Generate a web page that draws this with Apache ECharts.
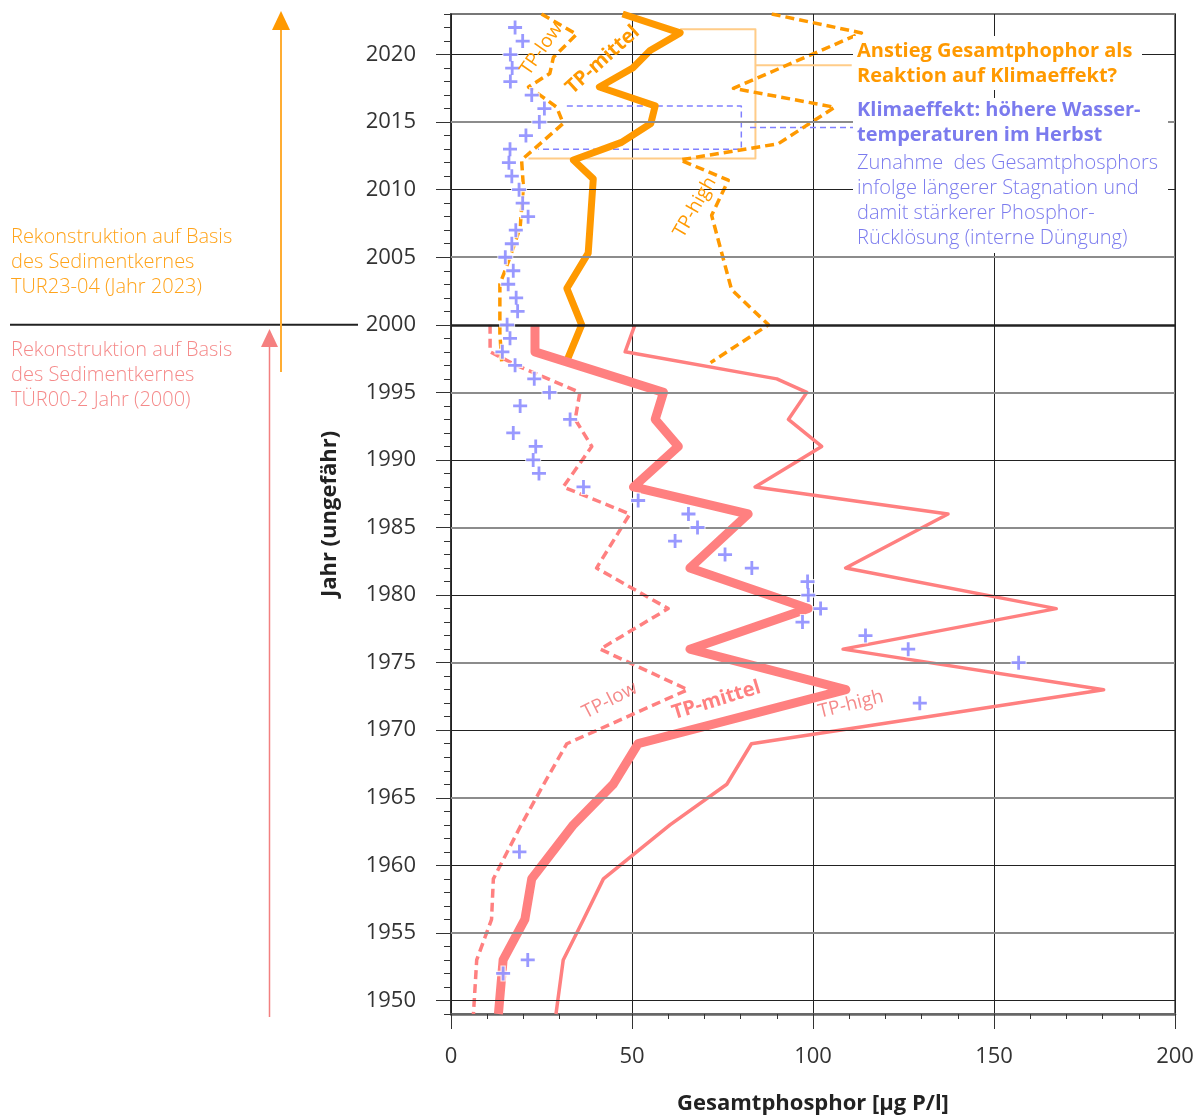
<!DOCTYPE html>
<html>
<head>
<meta charset="utf-8">
<script src="https://cdn.jsdelivr.net/npm/echarts@6/dist/echarts.min.js"></script>
<style>
  html, body { margin: 0; padding: 0; background: #fff; }
  #chart { width: 1203px; height: 1117px; }
</style>
</head>
<body>
<div id="chart"></div>
<script>
// Rekonstruierter Gesamtphosphor (TP) aus zwei Sedimentkernen

// Achsen
const yearTicks = [1950, 1955, 1960, 1965, 1970, 1975, 1980, 1985, 1990, 1995, 2000, 2005, 2010, 2015, 2020];
const tpTicks = [0, 50, 100, 150, 200];

// Kern TUR23-04 (Jahr 2023)
const turMittelYear = [2023, 2021.6, 2020.3, 2019, 2017.6, 2016.2, 2014.9, 2013.5, 2012.2, 2010.8, 2005.3, 2002.7, 2000, 1997.2];
const turMittelTP   = [47.4, 63.3, 55, 50.2, 41, 56.4, 55.2, 47.1, 33.8, 39.3, 37.9, 32, 36.1, 31.8];
const turLowYear = [2023, 2021.5, 2019.8, 2018.6, 2017.6, 2017, 2016.1, 2014.9, 2012.2, 2010.2, 2007.2, 2005, 2003, 1999.4, 1997.3];
const turLowTP   = [25, 34.7, 28.3, 27.3, 21.4, 24.6, 29.2, 31, 19.5, 20, 19.1, 16.3, 13.5, 13.5, 14];
const turHighYear = [2023, 2021.6, 2017.5, 2016.1, 2013.4, 2012.2, 2010.7, 2008.1, 2002.6, 2000, 1997.2];
const turHighTP   = [88.6, 113.4, 78, 106, 90.4, 63.3, 76.6, 72, 77.5, 87.7, 71.7];

// Kern TÜR00-2 (Jahr 2000)
const tuerMittelYear = [2000, 1998, 1995, 1993, 1991, 1988, 1986, 1982, 1979, 1976, 1973, 1969, 1966, 1963, 1959, 1956, 1953, 1949];
const tuerMittelTP   = [23.2, 23.2, 58.7, 56.4, 62.8, 50.4, 82.1, 66, 98.7, 66, 109.1, 51.7, 44.8, 33.8, 22.3, 20.4, 14.4, 13.1];
const tuerLowYear = [2000, 1998, 1997, 1995, 1993, 1991, 1988, 1986, 1982, 1979, 1976, 1973, 1969, 1966, 1963, 1959, 1956, 1953, 1949];
const tuerLowTP   = [10.8, 10.8, 18.1, 35.6, 34.3, 38.9, 31, 49.4, 40.2, 60, 41.2, 65.4, 32, 25.6, 19.4, 11.7, 11.2, 7.1, 6.2];
const tuerHighYear = [2000, 1998, 1996, 1995, 1993, 1991, 1988, 1986, 1982, 1979, 1976, 1973, 1969, 1966, 1963, 1959, 1956, 1953, 1949];
const tuerHighTP   = [50.8, 48.1, 90, 98.3, 93.2, 102.4, 84, 137.3, 109, 167.2, 108.3, 180.3, 83, 76.2, 60.5, 42.1, 36.6, 31, 29];

// Gemessene Werte (Kreuze)
const messYear = [2022, 2021, 2020, 2019, 2018, 2017, 2016, 2015, 2014, 2013, 2012, 2011, 2010, 2009, 2008, 2007, 2006, 2005, 2004, 2003, 2002, 2001, 2000,
                  1999, 1998, 1997, 1996, 1995, 1994, 1993, 1992, 1991, 1990, 1989, 1988, 1987, 1986, 1985, 1984, 1983, 1982, 1981, 1980, 1979, 1978,
                  1977, 1976, 1975, 1972, 1961, 1953, 1952];
const messTP   = [17.7, 19.8, 16.4, 16.9, 16.4, 22.3, 25.8, 24.4, 20.7, 16.3, 16.0, 16.8, 18.8, 19.8, 21.3, 17.9, 16.8, 15.0, 17.2, 15.8, 18.0, 18.4, 15.5,
                  16.3, 14.2, 17.7, 23, 27.2, 19.1, 32.9, 17.2, 23.4, 22.7, 24.3, 36.6, 51.7, 65.6, 68.1, 61.9, 75.7, 83.1, 98.5, 98.7, 102.1, 97.1,
                  114.5, 126.3, 156.8, 129.5, 18.9, 21.2, 14.4];

// Markierungen der Klimaeffekt-Periode (TP, Jahr)
const klammerTP   = [63.3, 84.1, 84.1, 21.4];
const klammerYear = [2021.87, 2021.87, 2012.3, 2012.3];
const klammerVerbTP   = [84.1, 110.7];
const klammerVerbYear = [2019.2, 2019.2];
const boxTP   = [32, 80.2, 80.2, 24.1];
const boxYear = [2016.2, 2016.2, 2013.0, 2013.0];
const boxVerbTP   = [82.6, 111.6];
const boxVerbYear = [2014.6, 2014.6];

const FONT = '"Open Sans", "Noto Sans", "DejaVu Sans", sans-serif';
const ORANGE = '#ff9900';
const ORANGE_LIGHT = '#ffcc88';
const PINK = '#ff8080';
const BLUE = '#8080ff';
const BLUE_TEXT = '#7b7bee';

const pairs = (tp, yr) => tp.map((v, i) => [v, yr[i]]);

const PLUS = 'path://M6,0H9V6H15V9H9V15H6V9H0V6H6Z';
const PLUS_HALO = 'path://M5,0H10V5H15V10H10V15H5V10H0V5H5Z';

function lineSeries(name, data, color, width, dashed, z) {
  return {
    name, type: 'line', data, symbol: 'none', z: z || 3,
    xAxisIndex: 0, yAxisIndex: 0,
    lineStyle: { color, width, type: dashed ? [9, 5] : 'solid', join: 'round', cap: 'butt' },
    silent: true, animation: false
  };
}

const gridLines = yearTicks.map(y => ({
  yAxis: y,
  lineStyle: {
    color: y % 10 === 0 ? '#222' : '#8c8c8c',
    width: y === 2000 ? 2.5 : (y % 10 === 0 ? 1 : 2),
    type: 'solid'
  }
}));

const chart = echarts.init(document.getElementById('chart'), null, { renderer: 'canvas' });

const option = {
  backgroundColor: '#fff',
  animation: false,
  textStyle: { fontFamily: FONT },
  grid: { left: 451, top: 14, width: 724, height: 1000, show: true, borderColor: '#777', borderWidth: 2 },
  xAxis: {
    type: 'value', min: tpTicks[0], max: tpTicks[tpTicks.length - 1], interval: 50,
    axisLine: { show: true, lineStyle: { color: '#666', width: 2.5 } },
    axisTick: { show: true, length: 15, lineStyle: { color: '#333', width: 1 } },
    minorTick: { show: true, splitNumber: 5, length: 5, lineStyle: { color: '#333', width: 1 } },
    axisLabel: { margin: 32, fontSize: 22, color: '#333', fontFamily: FONT },
    splitLine: { show: true, lineStyle: { color: '#222', width: 1 } }
  },
  yAxis: [
    {
      type: 'value', min: 1949, max: 2023, interval: 1, position: 'left',
      axisLine: { show: true, lineStyle: { color: '#222', width: 1.5 } },
      axisTick: { show: true, length: 7, lineStyle: { color: '#333', width: 1 } },
      axisLabel: {
        margin: 35, fontSize: 22, color: '#333', fontFamily: FONT,
        formatter: v => (yearTicks.indexOf(Math.round(v)) >= 0 ? String(Math.round(v)) : '')
      },
      splitLine: { show: false }
    },
    {
      type: 'value', min: 1949, max: 2023, position: 'left',
      axisLine: { show: false },
      axisTick: { show: true, length: 15, customValues: yearTicks, lineStyle: { color: '#333', width: 1 } },
      axisLabel: { show: false },
      splitLine: { show: false }
    }
  ],
  series: [
    {
      name: 'raster', type: 'line', data: [], z: 1, silent: true,
      markLine: { symbol: ['none', 'none'], silent: true, animation: false, label: { show: false }, data: gridLines }
    },
    lineSeries('klammer', pairs(klammerTP, klammerYear), ORANGE_LIGHT, 2, false, 2),
    lineSeries('klammerVerb', pairs(klammerVerbTP, klammerVerbYear), ORANGE_LIGHT, 2, false, 2),
    Object.assign(lineSeries('box', pairs(boxTP, boxYear), BLUE, 1.5, false, 2), { lineStyle: { color: BLUE, width: 1.5, type: [6, 4] } }),
    Object.assign(lineSeries('boxVerb', pairs(boxVerbTP, boxVerbYear), BLUE, 1.5, false, 2), { lineStyle: { color: BLUE, width: 1.5, type: [6, 4] } }),

    lineSeries('TUR23-04 TP-high', pairs(turHighTP, turHighYear), ORANGE, 3.5, true),
    lineSeries('TUR23-04 TP-low', pairs(turLowTP, turLowYear), ORANGE, 3.5, true),
    lineSeries('TUR23-04 TP-mittel', pairs(turMittelTP, turMittelYear), ORANGE, 7, false),

    lineSeries('TÜR00-2 TP-high', pairs(tuerHighTP, tuerHighYear), PINK, 3.5, false),
    lineSeries('TÜR00-2 TP-low', pairs(tuerLowTP, tuerLowYear), PINK, 3.5, true),
    lineSeries('TÜR00-2 TP-mittel', pairs(tuerMittelTP, tuerMittelYear), PINK, 9, false, 4),

    {
      name: 'halo', type: 'scatter', data: pairs(messTP, messYear), symbol: PLUS_HALO, symbolSize: 16,
      itemStyle: { color: '#fff' }, z: 5, silent: true
    },
    {
      name: 'gemessen', type: 'scatter', data: pairs(messTP, messYear), symbol: PLUS, symbolSize: 14,
      itemStyle: { color: BLUE }, z: 6, silent: true
    }
  ]
};

chart.setOption(option);

const px = (tp, yr) => chart.convertToPixel({ xAxisIndex: 0, yAxisIndex: 0 }, [tp, yr]);

function txt(text, x, y, color, size, weight) {
  return {
    type: 'text', x, y, z: 110, silent: true,
    style: { text, fill: color, fontSize: size, fontWeight: weight || 'normal', fontFamily: FONT, align: 'left', verticalAlign: 'middle' }
  };
}

function rotLabel(text, tp, yr, deg, color, weight, size) {
  const p = px(tp, yr);
  return {
    type: 'text', x: p[0], y: p[1], rotation: deg * Math.PI / 180, z: 110, silent: true,
    style: { text, fill: color, fontSize: size || 19, fontWeight: weight || 'normal', fontFamily: FONT, align: 'center', verticalAlign: 'middle' }
  };
}

const y2000 = px(0, 2000)[1];

const graphic = [
  // Trennlinie 2000 links der Achse
  { type: 'line', z: 50, silent: true, shape: { x1: 10, y1: y2000, x2: 358, y2: y2000 }, style: { stroke: '#222', lineWidth: 2 } },

  // Pfeile
  { type: 'line', z: 50, silent: true, shape: { x1: 281, y1: 372, x2: 281, y2: 28 }, style: { stroke: '#ffad33', lineWidth: 2 } },
  { type: 'polygon', z: 50, silent: true, shape: { points: [[272, 30], [290, 30], [281, 11]] }, style: { fill: ORANGE } },
  { type: 'line', z: 50, silent: true, shape: { x1: 269.5, y1: 1017, x2: 269.5, y2: 345 }, style: { stroke: '#f28080', lineWidth: 1.5 } },
  { type: 'polygon', z: 50, silent: true, shape: { points: [[261, 347], [278, 347], [269.5, 329]] }, style: { fill: '#f58080' } },

  // Beschriftung links
  txt('Rekonstruktion auf Basis', 11, 237, '#ffa31a', 20, 300),
  txt('des Sedimentkernes', 11, 262, '#ffa31a', 20, 300),
  txt('TUR23-04 (Jahr 2023)', 11, 287, '#ffa31a', 20, 300),
  txt('Rekonstruktion auf Basis', 11, 350, '#f58a8a', 20, 300),
  txt('des Sedimentkernes', 11, 375, '#f58a8a', 20, 300),
  txt('TÜR00-2 Jahr (2000)', 11, 400, '#f58a8a', 20, 300),

  // Hintergrund der Textblöcke rechts
  { type: 'rect', z: 105, silent: true, shape: { x: 853, y: 36, width: 289, height: 54 }, style: { fill: '#fff' } },
  { type: 'rect', z: 105, silent: true, shape: { x: 853, y: 98, width: 315, height: 155 }, style: { fill: '#fff' } },

  txt('Anstieg Gesamtphophor als', 857, 51, ORANGE, 20, 'bold'),
  txt('Reaktion auf Klimaeffekt?', 857, 76, ORANGE, 20, 'bold'),
  txt('Klimaeffekt: höhere Wasser-', 857, 110, BLUE_TEXT, 20, 'bold'),
  txt('temperaturen im Herbst', 857, 135, BLUE_TEXT, 20, 'bold'),
  txt('Zunahme  des Gesamtphosphors', 857, 163, BLUE_TEXT, 20, 300),
  txt('infolge längerer Stagnation und', 857, 188, BLUE_TEXT, 20, 300),
  txt('damit stärkerer Phosphor-', 857, 213, BLUE_TEXT, 20, 300),
  txt('Rücklösung (interne Düngung)', 857, 238, BLUE_TEXT, 20, 300),

  // Kurvenbeschriftungen
  rotLabel('TP-low', 25.0, 2020.4, 55, ORANGE),
  rotLabel('TP-mittel', 41.9, 2019.6, 42, ORANGE, 'bold', 20),
  rotLabel('TP-high', 67.4, 2008.7, 60, ORANGE),
  rotLabel('TP-low', 43.9, 1972.2, 27, '#f58a8a'),
  rotLabel('TP-mittel', 73.3, 1972.2, 17, PINK, 'bold', 20),
  rotLabel('TP-high', 110.5, 1971.9, 14, '#f58a8a'),

  // Achsentitel
  { type: 'text', x: (px(0, 2000)[0] + px(200, 2000)[0]) / 2, y: 1104, z: 110, silent: true,
    style: { text: 'Gesamtphosphor [µg P/l]', fill: '#222', fontSize: 22, fontWeight: 'bold', fontFamily: FONT, align: 'center', verticalAlign: 'middle' } },
  { type: 'text', x: 330, y: 514, rotation: Math.PI / 2, z: 110, silent: true,
    style: { text: 'Jahr (ungefähr)', fill: '#222', fontSize: 22, fontWeight: 'bold', fontFamily: FONT, align: 'center', verticalAlign: 'middle' } }
];

chart.setOption({ graphic });
</script>
</body>
</html>
